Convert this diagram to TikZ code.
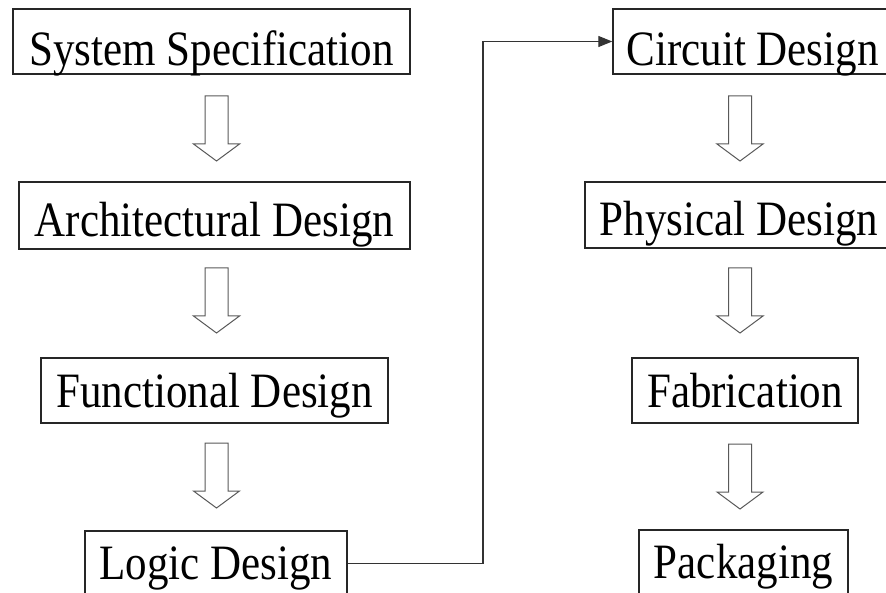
\documentclass[tikz,border=0pt]{standalone}
\usepackage{fontspec}
\setmainfont{Liberation Serif}
\usetikzlibrary{arrows.meta}
% lowers a label by #1 pt below the box centre and stretches it a little vertically
\newcommand{\stagelabel}[2]{\raisebox{-#1pt}{\scalebox{1}[1.15]{#2}}}

\begin{document}
\begin{tikzpicture}[x=1pt,y=-1pt,
  stage/.style={draw=black!85, line width=1.4pt, inner sep=0pt,
    text height=0pt, text depth=0pt, fill=white,
    font=\fontsize{43}{50}\selectfont},
  arrowline/.style={draw=black!65, line width=1pt, fill=white},
  link/.style={draw=black!80, line width=1.2pt,
    -{Triangle[length=14pt,width=11pt]}},
  hollowdown/.pic={\draw[arrowline] (-11.5,0) -- (-11.5,48) -- (-23,48)
    -- (0,65) -- (23,48) -- (11.5,48) -- (11.5,0) -- cycle;}
]
\useasboundingbox (0,0) rectangle (886,593);
\clip (0,0) rectangle (886,593);

% left column
\node[stage, minimum width=397pt, minimum height=65pt] (sys)   at (211.5,41.5)  {\stagelabel{24}{System Specification}};
\node[stage, minimum width=391pt, minimum height=67pt] (arch)  at (214.5,215.5) {\stagelabel{21}{Architectural Design}};
\node[stage, minimum width=347pt, minimum height=65pt] (func)  at (214.5,390.5) {\stagelabel{17}{Functional Design}};
\node[stage, minimum width=262pt, minimum height=65pt] (logic) at (216,563.5)   {\stagelabel{16}{Logic Design}};

% right column
\node[stage, minimum width=279pt, minimum height=65pt] (circ)  at (752.5,41.5)  {\stagelabel{24}{Circuit Design}};
\node[stage, minimum width=308pt, minimum height=66pt] (phys)  at (739,215)     {\stagelabel{21}{Physical Design}};
\node[stage, minimum width=226pt, minimum height=65pt] (fab)   at (745,390.5)   {\stagelabel{17}{Fabrication}};
\node[stage, minimum width=209pt, minimum height=65pt] (pack)  at (743.5,562.5) {\stagelabel{16}{Packaging}};

% hollow flow arrows
\pic at (216.5,96)  {hollowdown};
\pic at (216.5,268) {hollowdown};
\pic at (216.5,443) {hollowdown};
\pic at (740,96)    {hollowdown};
\pic at (740,268)   {hollowdown};
\pic at (740,444)   {hollowdown};

% hand-over from logic to circuit design
\coordinate (bend) at (483,0);
\draw[link] (logic.east) -- (logic.east -| bend) |- (circ.west);
\end{tikzpicture}
\end{document}
